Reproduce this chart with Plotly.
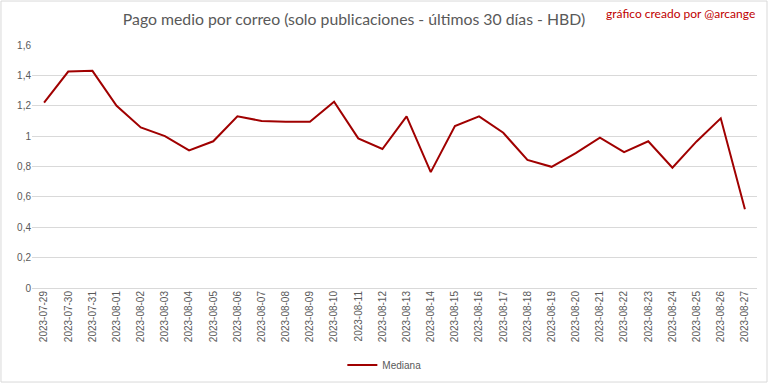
import plotly.graph_objects as go

dates = ["2023-07-29", "2023-07-30", "2023-07-31", "2023-08-01", "2023-08-02", "2023-08-03",
         "2023-08-04", "2023-08-05", "2023-08-06", "2023-08-07", "2023-08-08", "2023-08-09",
         "2023-08-10", "2023-08-11", "2023-08-12", "2023-08-13", "2023-08-14", "2023-08-15",
         "2023-08-16", "2023-08-17", "2023-08-18", "2023-08-19", "2023-08-20", "2023-08-21",
         "2023-08-22", "2023-08-23", "2023-08-24", "2023-08-25", "2023-08-26", "2023-08-27"]
mediana = [1.22, 1.425, 1.43, 1.20, 1.057, 1.0, 0.906, 0.966, 1.13, 1.10, 1.095, 1.095,
           1.226, 0.985, 0.915, 1.13, 0.763, 1.066, 1.13, 1.022, 0.843, 0.798, 0.888, 0.99,
           0.895, 0.966, 0.792, 0.965, 1.117, 0.518]
y_tickvals = [0, 0.2, 0.4, 0.6, 0.8, 1.0, 1.2, 1.4, 1.6]
y_ticktext = ["0", "0,2", "0,4", "0,6", "0,8", "1", "1,2", "1,4", "1,6"]

fig = go.Figure()
fig.add_trace(go.Scatter(x=dates, y=mediana, mode="lines", name="Mediana",
                         line=dict(color="#A00000", width=2)))

fig.update_layout(
    width=768, height=384,
    margin=dict(l=32, r=11, t=45, b=96, autoexpand=False),
    paper_bgcolor="white", plot_bgcolor="white",
    font=dict(family="Liberation Sans, Arial, sans-serif", color="#595959", size=10),
    title=dict(text="Pago medio por correo (solo publicaciones - últimos 30 días - HBD)",
               x=0.461, xref="container", xanchor="center",
               y=0.948, yref="container", yanchor="middle",
               font=dict(family="Lato, Open Sans, sans-serif", size=15.8, color="#595959")),
    showlegend=True,
    legend=dict(orientation="h", x=0.486, xanchor="center", y=-0.317, yanchor="middle",
                font=dict(size=10, color="#595959"), bgcolor="rgba(0,0,0,0)"),
    xaxis=dict(type="category", range=[-0.5, len(dates) - 0.5], tickangle=-90,
               showgrid=False, showline=False, automargin=False,
               ticks="", tickfont=dict(size=10, color="#595959")),
    yaxis=dict(range=[0, 1.6], tickvals=y_tickvals, ticktext=y_ticktext, automargin=False,
               showgrid=True, gridcolor="#D9D9D9", gridwidth=1, zeroline=True,
               zerolinecolor="#D9D9D9", zerolinewidth=1, showline=False, ticks="",
               tickfont=dict(size=10, color="#595959")),
    annotations=[dict(text="gráfico creado por @arcange", xref="paper", yref="paper",
                      x=1.0, xanchor="right", y=1.128, yanchor="middle", showarrow=False,
                      font=dict(family="Lato, Open Sans, sans-serif", size=12, color="#C00000"))],
    shapes=[dict(type="rect", xref="paper", yref="paper",
                 x0=-0.0428, x1=1.0138, y0=-0.387, y1=1.181,
                 line=dict(color="#D9D9D9", width=1), fillcolor="rgba(0,0,0,0)")],
)

fig.write_html("out.html", config={"displayModeBar": False},
               post_script="document.body.style.margin='0';")
